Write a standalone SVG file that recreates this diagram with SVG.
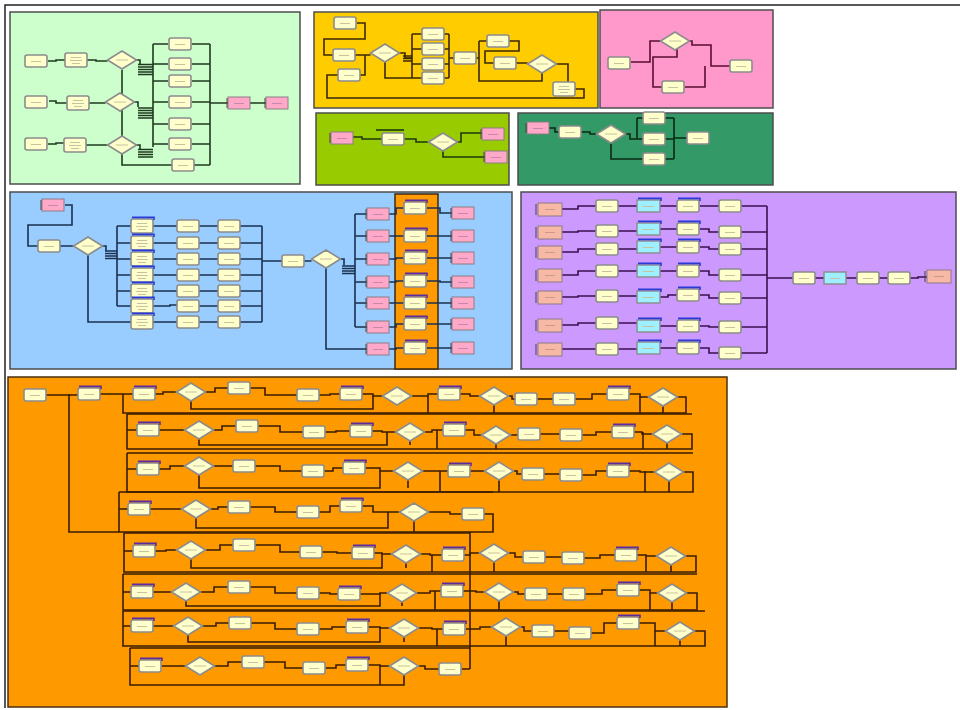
<svg xmlns="http://www.w3.org/2000/svg" width="960" height="710" viewBox="0 0 960 710">
<style>
.pn{stroke:#4d4d4d;stroke-width:1.5}
.bx{fill:#ffffcc;stroke:#8c8c8c;stroke-width:1.6}
.tx{stroke:#c8c2a0;stroke-width:1;fill:none}
.dm{fill:#ffffcc;stroke:#8c8c8c;stroke-width:1.6}
.pk{fill:#ffa8c8;stroke:#8c7c84;stroke-width:1}
.pe{fill:#f7b8a6;stroke:#8c7c84;stroke-width:1}
.cy{fill:#9eefff;stroke:#8c8c8c;stroke-width:1.4}
.bar{fill:none;stroke-width:1.6}
#connectors path{fill:none;stroke-width:1.6;stroke-linejoin:miter}
</style>
<defs>
<g id="b"><rect width="22" height="12" rx="2" class="bx"/><path d="M6 6.5H16" class="tx"/></g>
<g id="bt"><rect width="22" height="14" rx="2" class="bx"/><path d="M6 4.5H16M5 7.5H17M7 10.5H15" class="tx"/></g>
<g id="bp"><use href="#b"/><path d="M1 -1.6H23V1" class="bar" stroke="#5b2ca0"/></g>
<g id="bb"><use href="#b"/><path d="M1 -1.6H23V1" class="bar" stroke="#2a3ad8"/></g>
<g id="bbt"><use href="#bt"/><path d="M1 -1.6H23V1" class="bar" stroke="#2a3ad8"/></g>
<g id="cb"><rect width="23" height="12" class="cy"/><path d="M6 6.5H17" class="tx"/><path d="M1 -1.6H24V1" class="bar" stroke="#2a3ad8"/></g>
<g id="c"><rect width="22" height="12" class="cy"/><path d="M6 6.5H16" class="tx"/></g>
<g id="p"><rect width="22" height="12" class="pk"/><path d="M-1 1V11" stroke="#444" stroke-width="1"/><path d="M6 6.5H16" stroke="#c489b0" stroke-width="1"/></g>
<g id="pe"><rect width="24" height="13" class="pe"/><path d="M-2 1V12" stroke="#444" stroke-width="1"/><path d="M7 6.5H17" stroke="#c9998c" stroke-width="1"/></g>
<g id="d"><polygon points="0,-9 14.5,0 0,9 -14.5,0" class="dm"/><path d="M-6 0H6" class="tx"/></g>
</defs>

<rect width="960" height="710" fill="#ffffff"/>
<path d="M5 708V5H960" fill="none" stroke="#222" stroke-width="1.5"/>

<g id="panels">
<rect x="10" y="12" width="290" height="172" fill="#ccffcc" class="pn"/>
<rect x="314" y="12" width="284" height="96" fill="#ffcc00" class="pn"/>
<rect x="600" y="10" width="173" height="98" fill="#ff99cc" class="pn"/>
<rect x="316" y="113" width="193" height="72" fill="#99cc00" class="pn"/>
<rect x="518" y="113" width="255" height="72" fill="#339966" class="pn"/>
<rect x="10" y="192" width="502" height="177" fill="#99ccff" class="pn"/>
<rect x="395" y="194" width="43" height="175" fill="#ff9900" stroke="#3d2a10" stroke-width="1.5"/>
<rect x="521" y="192" width="435" height="177" fill="#cc99ff" class="pn"/>
<rect x="8" y="377" width="719" height="330" fill="#ff9900" stroke="#4a3010" stroke-width="1.5"/>
</g>

<g id="connectors">
<g stroke="#1e3a1e">
<path d="M48 61H56V60H65M87 60H96V61H107.5M49 101H56V103H67M89 103H105.5M48 144H56V143H64M86 145H107.5"/>
<path d="M153 44V147M153 44H168M153 64H168M153 81H168M153 102H168M153 124H168M153 144H168M122 70V165H172"/>
<path d="M192 44H210M192 64H210M192 81H210M192 102H210M192 124H210M192 144H210M194 165H210M210 44V165M210 103H228M250 103H266"/>
<path d="M136 60H140V64M134 102H138V107M136 145H140V149" />
<path d="M138 64.5H153M138 67H153M138 69.5H153M138 72H153M138 74.5H153M138 108H153M138 110.5H153M138 113H153M138 115.5H153M138 118H153M138 149.5H153M138 152H153M138 154.5H153M138 157H153" stroke-width="1.3"/>
</g>
<g stroke="#3a2700">
<path d="M357 23H365V39H324V55H333M355 55H370.5M360 75H365V55M338 75H327V98H584V89H575"/>
<path d="M399.5 53H405V58H412M412 34V78M412 34H422M412 49H422M412 64H422M385 62V78H422"/>
<path d="M444 34H449M444 49H449M444 64H449M444 78H449M449 34V78M449 58H454M476 58H479M479 41V81H542V73M479 41H487M509 41H519V51H485V63H494M516 63H527.5M556.5 64H568V82"/>
<path d="M403 56H412M403 58.5H412M403 61H412" stroke-width="1.2"/>
</g>
<g stroke="#5a0e30">
<path d="M631 62H650V41H661M677 49V57H653V87H662M689 41H692V45H711V66H730M685 87H705V66"/>
</g>
<g stroke="#1b3a0a">
<path d="M351 137H362V139H382M403 139H416V142H428.5M457.5 142H461V133H482M443 151V157H485"/>
</g>
<g stroke="#0b2a14">
<path d="M549 128H555V132H559M581 132H590V134H596.5M625.5 134H630V139H637M637 118V139M637 118H643M637 139H643M611 141.5V159H643"/>
<path d="M665 118H674M665 139H674M665 159H674M674 118V159M674 138H687"/>
</g>
<g stroke="#1a3050">
<path d="M65 205H72V225H28V246H38M60 246H73.5M102.5 246H106V251"/>
<path d="M117 226V306M117 226H131M117 243H131M117 259H131M117 275H131M117 291H131M117 306H131M88 255V322H131"/>
<path d="M153 226H177M153 243H177M153 259H177M153 275H177M153 291H177M153 306H170V305H177M153 322H177"/>
<path d="M199 226H218M199 243H218M199 259H218M199 275H218M199 291H218M199 306H218M199 322H218"/>
<path d="M240 226H262M240 243H262M240 259H262M240 275H262M240 291H262M240 306H262M240 322H262M262 226V322M262 261H282M303 261H311.5M340.5 259H344V265"/>
<path d="M355 214V327M355 214H367M355 236H367M355 259H367M355 282H367M355 303H367M355 327H367M326 268V349H367"/>
<path d="M388 214H396V208H404M388 236H404M388 259H396V258H404M388 282H396V281H404M388 303H404M388 327H396V324H404M388 349H396V348H404"/>
<path d="M427 208H440V213H452M427 236H452M427 258H452M427 281H440V282H452M427 303H452M427 324H452M427 348H452"/>
<path d="M105 251H117M105 253.5H117M105 256H117M105 258.5H117M342 266H355M342 268.5H355M342 271H355M342 273.5H355" stroke-width="1.6"/>
</g>
<g stroke="#3b0f4f">
<path d="M562 209H578V206H596M618 206H637M660 206H668V206H677M700 206H709V206H719M741 206H767"/>
<path d="M562 232H578V231H596M618 231H637M660 229H668V229H677M700 229H709V232H719M741 232H767"/>
<path d="M562 252H578V249H596M618 249H637M660 247H668V247H677M700 247H709V249H719M741 249H767"/>
<path d="M562 275H578V271H596M618 271H637M660 271H668V271H677M700 271H709V275H719M741 275H767"/>
<path d="M562 297H578V296H596M618 296H637M660 297H668V295H677M700 295H709V298H719M741 298H767"/>
<path d="M562 325H578V323H596M618 323H637M660 326H668V326H677M700 326H709V327H719M741 327H767"/>
<path d="M562 349H578V349H596M618 349H637M660 348H668V348H677M700 348H709V353H719M741 353H767"/>
<path d="M767 206V353M767 278H793M815 278H824M846 278H857M879 278H888M910 278H918V277H927"/>
</g>
<g stroke="#3a1c00">
<path d="M45 395H78M100 394H133M69 394V532H119"/>
<path d="M123 394V413H686V397H677.5M154 394H163V392H176.5M205.5 392H215V388H228M250 388H265V395H297M319 395H330V394H340M362 394H373V396H382.5M411.5 396H428V394H438M460 394H470V396H479.5M508.5 396H512V399H515M537 399H553M575 399H592V394H607M629 394H640V397H648.5"/>
<path d="M191 401V409H373V396M428 396V413M494 405V413M640 397V413M663 406V413"/>
<path d="M127 414H692M127 414V449H692V434H681.5M127 430H137M159 430H184.5M213.5 430H222V426H236M258 426H280V432H303M325 432H336V431H350M372 431H382V432H395.5M424.5 432H432V430H443M465 430H474V435H481.5M510.5 435H518M540 434H560M582 435H596V432H612M634 432H642V434H652.5"/>
<path d="M199 439V445H387V432M410 441V445M437 430V449M496 444V449M643 432V449M667 443V449"/>
<path d="M127 453H693M127 453V492H693V472H683.5M127 469H137M159 469H170V466H184.5M213.5 466H233M255 466H280V471H302M324 471H333V468H343M365 468H380V471H393.5M422.5 471H448M470 471H484.5M513.5 471H517V474H522M544 474H560M582 475H596V471H607M629 471H640V472H654.5"/>
<path d="M199 475V488H380V471M408 480V488M440 471V492M499 480V492M645 471V492M669 481V492"/>
<path d="M119 492H493M119 492V532H493V514H484M119 509H128M150 509H181.5M210.5 509H218V507H228M250 507H275V512H297M319 512H330V506H340M362 506H373V512H399.5M428.5 512H450V514H462"/>
<path d="M196 518V528H388V512M414 521V532M470 532V669"/>
<path d="M124 533H470M124 533V572H696V556H685.5M124 551H133M155 551H166V550H176.5M205.5 550H220V545H233M255 545H280V552H300M322 552H337V553H352M374 553H382V554H391.5M420.5 554H430V555H442M464 555H470V553H479.5M508.5 553H515V557H523M545 557H562M584 558H600V555H615M637 555H646V556H656.5"/>
<path d="M191 559V568H382V554M406 563V568M432 555V572M494 562V572M646 556V572M671 565V572"/>
<path d="M123 574H697M123 574V610H697V593H686.5M123 592H131M153 592H171.5M200.5 592H214V587H228M250 587H275V593H297M319 593H330V594H338M360 594H380V593H387.5M416.5 593H430V591H441M463 591H476V592H484.5M513.5 592H518V594H525M547 594H563M585 594H602V590H617M639 590H650V593H657.5"/>
<path d="M186 601V606H380V593M402 602V606M435 591V610M499 601V610M650 593V610M672 602V610"/>
<path d="M123 611H705M123 611V646H705V631H694.5M123 626H131M153 626H173.5M202.5 626H216V623H229M251 623H275V629H297M319 629H332V627H346M368 627H380V628H389.5M418.5 628H432V629H443M466 629H480V627H491.5M520.5 627H524V631H532M554 631H569M591 633H604V623H617M639 623H655V631H665.5"/>
<path d="M188 635V642H380V628M404 637V642M437 629V646M506 636V646M655 631V646M680 640V646"/>
<path d="M130 648H470M130 648V685H404V675M130 666H139M162 666H185.5M214.5 666H228V662H242M264 662H285V668H303M325 668H336V665H346M368 665H380V666H389.5M418.5 666H425V669H439M462 669H470M380 666V685"/>
</g>
</g>

<g id="nodes-green">
<g id="g1"><use href="#b" x="25" y="55"/></g>
<g id="g2"><use href="#b" x="25" y="96"/></g>
<g id="g3"><use href="#b" x="25" y="138"/></g>
<g id="g4"><use href="#bt" x="65" y="53"/></g>
<g id="g5"><use href="#bt" x="67" y="96"/></g>
<g id="g6"><use href="#bt" x="64" y="138"/></g>
<g id="g7"><use href="#d" x="122" y="60"/></g>
<g id="g8"><use href="#d" x="120" y="102"/></g>
<g id="g9"><use href="#d" x="122" y="145"/></g>
<g id="g10"><use href="#b" x="169" y="38"/></g>
<g id="g11"><use href="#b" x="169" y="58"/></g>
<g id="g12"><use href="#b" x="169" y="75"/></g>
<g id="g13"><use href="#b" x="169" y="96"/></g>
<g id="g14"><use href="#b" x="169" y="118"/></g>
<g id="g15"><use href="#b" x="169" y="138"/></g>
<g id="g16"><use href="#b" x="172" y="159"/></g>
<g id="g17"><use href="#p" x="228" y="97"/></g>
<g id="g18"><use href="#p" x="266" y="97"/></g>
</g>

<g id="nodes-gold">
<g id="y1"><use href="#b" x="334" y="17"/></g>
<g id="y2"><use href="#b" x="333" y="49"/></g>
<g id="y3"><use href="#b" x="338" y="69"/></g>
<g id="y4"><use href="#d" x="385" y="53"/></g>
<g id="y5"><use href="#b" x="422" y="28"/></g>
<g id="y6"><use href="#b" x="422" y="43"/></g>
<g id="y7"><use href="#b" x="422" y="58"/></g>
<g id="y8"><use href="#b" x="422" y="72"/></g>
<g id="y9"><use href="#b" x="454" y="52"/></g>
<g id="y10"><use href="#b" x="487" y="35"/></g>
<g id="y11"><use href="#b" x="494" y="57"/></g>
<g id="y12"><use href="#d" x="542" y="64"/></g>
<g id="y13"><use href="#bt" x="553" y="82"/></g>
</g>

<g id="nodes-pink">
<g id="k1"><use href="#b" x="608" y="57"/></g>
<g id="k2"><use href="#d" x="675" y="41"/></g>
<g id="k3"><use href="#b" x="662" y="81"/></g>
<g id="k4"><use href="#b" x="730" y="60"/></g>
</g>

<g id="nodes-lime">
<g id="q1"><use href="#p" x="331" y="132"/></g>
<g id="q2"><path d="M376 130H404" stroke="#1b3a0a" stroke-width="1.6"/><use href="#b" x="382" y="133"/></g>
<g id="q3"><use href="#d" x="443" y="142"/></g>
<g id="q4"><use href="#p" x="482" y="128"/></g>
<g id="q5"><use href="#p" x="485" y="151"/></g>
</g>

<g id="nodes-darkgreen">
<g id="r1"><use href="#p" x="527" y="122"/></g>
<g id="r2"><use href="#b" x="559" y="126"/></g>
<g id="r3"><use href="#d" x="611" y="134"/></g>
<g id="r4"><use href="#b" x="643" y="112"/></g>
<g id="r5"><use href="#b" x="643" y="133"/></g>
<g id="r6"><use href="#b" x="643" y="153"/></g>
<g id="r7"><use href="#b" x="687" y="132"/></g>
</g>

<g id="nodes-blue">
<g id="s1"><use href="#p" x="42" y="199"/></g>
<g id="s2"><use href="#b" x="38" y="240"/></g>
<g id="s3"><use href="#d" x="88" y="246"/></g>
<g id="s10"><use href="#bbt" x="131" y="219"/></g>
<g id="s11"><use href="#bbt" x="131" y="236"/></g>
<g id="s12"><use href="#bbt" x="131" y="252"/></g>
<g id="s13"><use href="#bbt" x="131" y="268"/></g>
<g id="s14"><use href="#bbt" x="131" y="284"/></g>
<g id="s15"><use href="#bbt" x="131" y="299"/></g>
<g id="s16"><use href="#bbt" x="131" y="315"/></g>
<g id="s20"><use href="#b" x="177" y="220"/></g>
<g id="s21"><use href="#b" x="177" y="237"/></g>
<g id="s22"><use href="#b" x="177" y="253"/></g>
<g id="s23"><use href="#b" x="177" y="269"/></g>
<g id="s24"><use href="#b" x="177" y="285"/></g>
<g id="s25"><use href="#b" x="177" y="300"/></g>
<g id="s26"><use href="#b" x="177" y="316"/></g>
<g id="s30"><use href="#b" x="218" y="220"/></g>
<g id="s31"><use href="#b" x="218" y="237"/></g>
<g id="s32"><use href="#b" x="218" y="253"/></g>
<g id="s33"><use href="#b" x="218" y="269"/></g>
<g id="s34"><use href="#b" x="218" y="285"/></g>
<g id="s35"><use href="#b" x="218" y="300"/></g>
<g id="s36"><use href="#b" x="218" y="316"/></g>
<g id="s4"><use href="#b" x="282" y="255"/></g>
<g id="s5"><use href="#d" x="326" y="259"/></g>
<g id="s40"><use href="#p" x="367" y="208"/></g>
<g id="s41"><use href="#p" x="367" y="230"/></g>
<g id="s42"><use href="#p" x="367" y="253"/></g>
<g id="s43"><use href="#p" x="367" y="276"/></g>
<g id="s44"><use href="#p" x="367" y="297"/></g>
<g id="s45"><use href="#p" x="367" y="321"/></g>
<g id="s46"><use href="#p" x="367" y="343"/></g>
<g id="s50"><use href="#bp" x="404" y="202"/></g>
<g id="s51"><use href="#bp" x="404" y="230"/></g>
<g id="s52"><use href="#bp" x="404" y="252"/></g>
<g id="s53"><use href="#bp" x="404" y="275"/></g>
<g id="s54"><use href="#bp" x="404" y="297"/></g>
<g id="s55"><use href="#bp" x="404" y="318"/></g>
<g id="s56"><use href="#bp" x="404" y="342"/></g>
<g id="s60"><use href="#p" x="452" y="207"/></g>
<g id="s61"><use href="#p" x="452" y="230"/></g>
<g id="s62"><use href="#p" x="452" y="252"/></g>
<g id="s63"><use href="#p" x="452" y="276"/></g>
<g id="s64"><use href="#p" x="452" y="297"/></g>
<g id="s65"><use href="#p" x="452" y="318"/></g>
<g id="s66"><use href="#p" x="452" y="342"/></g>
</g>

<g id="nodes-purple">
<g id="v10"><use href="#pe" x="538" y="203"/></g>
<g id="v11"><use href="#pe" x="538" y="226"/></g>
<g id="v12"><use href="#pe" x="538" y="246"/></g>
<g id="v13"><use href="#pe" x="538" y="269"/></g>
<g id="v14"><use href="#pe" x="538" y="291"/></g>
<g id="v15"><use href="#pe" x="538" y="319"/></g>
<g id="v16"><use href="#pe" x="538" y="343"/></g>
<g id="v20"><use href="#b" x="596" y="200"/></g>
<g id="v21"><use href="#b" x="596" y="225"/></g>
<g id="v22"><use href="#b" x="596" y="243"/></g>
<g id="v23"><use href="#b" x="596" y="265"/></g>
<g id="v24"><use href="#b" x="596" y="290"/></g>
<g id="v25"><use href="#b" x="596" y="317"/></g>
<g id="v26"><use href="#b" x="596" y="343"/></g>
<g id="v30"><use href="#cb" x="637" y="200"/></g>
<g id="v31"><use href="#cb" x="637" y="223"/></g>
<g id="v32"><use href="#cb" x="637" y="241"/></g>
<g id="v33"><use href="#cb" x="637" y="265"/></g>
<g id="v34"><use href="#cb" x="637" y="291"/></g>
<g id="v35"><use href="#cb" x="637" y="320"/></g>
<g id="v36"><use href="#cb" x="637" y="342"/></g>
<g id="v40"><use href="#bb" x="677" y="200"/></g>
<g id="v41"><use href="#bb" x="677" y="223"/></g>
<g id="v42"><use href="#bb" x="677" y="241"/></g>
<g id="v43"><use href="#bb" x="677" y="265"/></g>
<g id="v44"><use href="#bb" x="677" y="289"/></g>
<g id="v45"><use href="#bb" x="677" y="320"/></g>
<g id="v46"><use href="#bb" x="677" y="342"/></g>
<g id="v50"><use href="#b" x="719" y="200"/></g>
<g id="v51"><use href="#b" x="719" y="226"/></g>
<g id="v52"><use href="#b" x="719" y="243"/></g>
<g id="v53"><use href="#b" x="719" y="269"/></g>
<g id="v54"><use href="#b" x="719" y="292"/></g>
<g id="v55"><use href="#b" x="719" y="321"/></g>
<g id="v56"><use href="#b" x="719" y="347"/></g>
<g id="v60"><use href="#b" x="793" y="272"/></g>
<g id="v61"><use href="#c" x="824" y="272"/></g>
<g id="v62"><use href="#b" x="857" y="272"/></g>
<g id="v63"><use href="#b" x="888" y="272"/></g>
<g id="v64"><use href="#pe" x="927" y="270"/></g>
</g>

<g id="nodes-orange">
<g id="oA0"><use href="#b" x="24" y="389"/></g>
<g id="oA1"><use href="#bp" x="78" y="388"/></g>
<g id="oA2"><use href="#bp" x="133" y="388"/></g>
<g id="oA3"><use href="#d" x="191" y="392"/></g>
<g id="oA4"><use href="#b" x="228" y="382"/></g>
<g id="oA5"><use href="#b" x="297" y="389"/></g>
<g id="oA6"><use href="#bp" x="340" y="388"/></g>
<g id="oA7"><use href="#d" x="397" y="396"/></g>
<g id="oA8"><use href="#bp" x="438" y="388"/></g>
<g id="oA9"><use href="#d" x="494" y="396"/></g>
<g id="oA10"><use href="#b" x="515" y="393"/></g>
<g id="oA11"><use href="#b" x="553" y="393"/></g>
<g id="oA12"><use href="#bp" x="607" y="388"/></g>
<g id="oA13"><use href="#d" x="663" y="397"/></g>

<g id="oB1"><use href="#bp" x="137" y="424"/></g>
<g id="oB2"><use href="#d" x="199" y="430"/></g>
<g id="oB3"><use href="#b" x="236" y="420"/></g>
<g id="oB4"><use href="#b" x="303" y="426"/></g>
<g id="oB5"><use href="#bp" x="350" y="425"/></g>
<g id="oB6"><use href="#d" x="410" y="432"/></g>
<g id="oB7"><use href="#bp" x="443" y="424"/></g>
<g id="oB8"><use href="#d" x="496" y="435"/></g>
<g id="oB9"><use href="#b" x="518" y="428"/></g>
<g id="oB10"><use href="#b" x="560" y="429"/></g>
<g id="oB11"><use href="#bp" x="612" y="426"/></g>
<g id="oB12"><use href="#d" x="667" y="434"/></g>

<g id="oC1"><use href="#bp" x="137" y="463"/></g>
<g id="oC2"><use href="#d" x="199" y="466"/></g>
<g id="oC3"><use href="#b" x="233" y="460"/></g>
<g id="oC4"><use href="#b" x="302" y="465"/></g>
<g id="oC5"><use href="#bp" x="343" y="462"/></g>
<g id="oC6"><use href="#d" x="408" y="471"/></g>
<g id="oC7"><use href="#bp" x="448" y="465"/></g>
<g id="oC8"><use href="#d" x="499" y="471"/></g>
<g id="oC9"><use href="#b" x="522" y="468"/></g>
<g id="oC10"><use href="#b" x="560" y="469"/></g>
<g id="oC11"><use href="#bp" x="607" y="465"/></g>
<g id="oC12"><use href="#d" x="669" y="472"/></g>

<g id="oD1"><use href="#bp" x="128" y="503"/></g>
<g id="oD2"><use href="#d" x="196" y="509"/></g>
<g id="oD3"><use href="#b" x="228" y="501"/></g>
<g id="oD4"><use href="#b" x="297" y="506"/></g>
<g id="oD5"><use href="#bp" x="340" y="500"/></g>
<g id="oD6"><use href="#d" x="414" y="512"/></g>
<g id="oD7"><use href="#b" x="462" y="508"/></g>

<g id="oE1"><use href="#bp" x="133" y="545"/></g>
<g id="oE2"><use href="#d" x="191" y="550"/></g>
<g id="oE3"><use href="#b" x="233" y="539"/></g>
<g id="oE4"><use href="#b" x="300" y="546"/></g>
<g id="oE5"><use href="#bp" x="352" y="547"/></g>
<g id="oE6"><use href="#d" x="406" y="554"/></g>
<g id="oE7"><use href="#bp" x="442" y="549"/></g>
<g id="oE8"><use href="#d" x="494" y="553"/></g>
<g id="oE9"><use href="#b" x="523" y="551"/></g>
<g id="oE10"><use href="#b" x="562" y="552"/></g>
<g id="oE11"><use href="#bp" x="615" y="549"/></g>
<g id="oE12"><use href="#d" x="671" y="556"/></g>

<g id="oF1"><use href="#bp" x="131" y="586"/></g>
<g id="oF2"><use href="#d" x="186" y="592"/></g>
<g id="oF3"><use href="#b" x="228" y="581"/></g>
<g id="oF4"><use href="#b" x="297" y="587"/></g>
<g id="oF5"><use href="#bp" x="338" y="588"/></g>
<g id="oF6"><use href="#d" x="402" y="593"/></g>
<g id="oF7"><use href="#bp" x="441" y="585"/></g>
<g id="oF8"><use href="#d" x="499" y="592"/></g>
<g id="oF9"><use href="#b" x="525" y="588"/></g>
<g id="oF10"><use href="#b" x="563" y="588"/></g>
<g id="oF11"><use href="#bp" x="617" y="584"/></g>
<g id="oF12"><use href="#d" x="672" y="593"/></g>

<g id="oG1"><use href="#bp" x="131" y="620"/></g>
<g id="oG2"><use href="#d" x="188" y="626"/></g>
<g id="oG3"><use href="#b" x="229" y="617"/></g>
<g id="oG4"><use href="#b" x="297" y="623"/></g>
<g id="oG5"><use href="#bp" x="346" y="621"/></g>
<g id="oG6"><use href="#d" x="404" y="628"/></g>
<g id="oG7"><use href="#bp" x="443" y="623"/></g>
<g id="oG8"><use href="#d" x="506" y="627"/></g>
<g id="oG9"><use href="#b" x="532" y="625"/></g>
<g id="oG10"><use href="#b" x="569" y="627"/></g>
<g id="oG11"><use href="#bp" x="617" y="617"/></g>
<g id="oG12"><use href="#d" x="680" y="631"/></g>

<g id="oH1"><use href="#bp" x="139" y="660"/></g>
<g id="oH2"><use href="#d" x="200" y="666"/></g>
<g id="oH3"><use href="#b" x="242" y="656"/></g>
<g id="oH4"><use href="#b" x="303" y="662"/></g>
<g id="oH5"><use href="#bp" x="346" y="659"/></g>
<g id="oH6"><use href="#d" x="404" y="666"/></g>
<g id="oH7"><use href="#b" x="439" y="663"/></g>
</g>
</svg>
